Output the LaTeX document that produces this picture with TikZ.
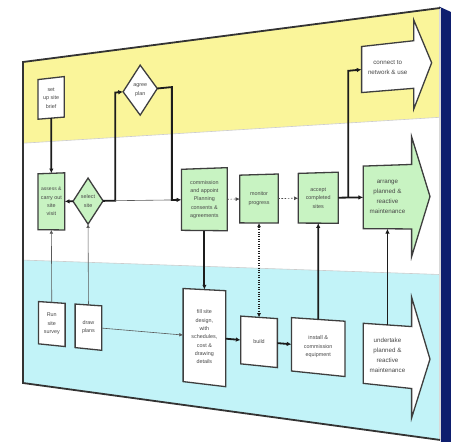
\documentclass[tikz,border=0pt]{standalone}
\usepackage{fontspec}
\setmainfont{Liberation Sans}
\usetikzlibrary{arrows.meta}

\definecolor{laneY}{HTML}{FAF59A}
\definecolor{laneW}{HTML}{FFFFFF}
\definecolor{laneC}{HTML}{C2F3F8}
\definecolor{boxG}{HTML}{C8F3C2}
\definecolor{sideblue}{HTML}{0E1E6E}
\definecolor{ink}{HTML}{1C1C1C}

% Board seen at an angle: (u,v) in 0..100 on the flat chart is mapped
% bilinearly onto the tilted quadrilateral of the board.
\makeatletter
\def\wsplit#1,#2\relax{\pgfmathsetmacro\wu{#1}\pgfmathsetmacro\wv{#2}}
\tikzdeclarecoordinatesystem{w}{%
  \wsplit#1\relax
  \pgfmathsetmacro\wX{23+4.17*\wu}%
  \pgfmathsetmacro\wY{62-0.54*\wu+(3.21+0.0111*\wu)*\wv}%
  \pgfpointxy{\wX}{\wY}%
}
\makeatother

% rectangular step: name, u1, v1, u2, v2, box style, text
\newcommand\flowbox[7]{%
  \path[#6] (w cs:#2,#3) -- (w cs:#4,#3) -- (w cs:#4,#5) -- (w cs:#2,#5) -- cycle;
  \pgfmathsetmacro\fbu{(#2+#4)/2}\pgfmathsetmacro\fbv{(#3+#5)/2}%
  \node[txt] (#1) at (w cs:\fbu,\fbv) {#7};
  \coordinate (#1-n) at (w cs:\fbu,#3);
  \coordinate (#1-s) at (w cs:\fbu,#5);
  \coordinate (#1-w) at (w cs:#2,\fbv);
  \coordinate (#1-e) at (w cs:#4,\fbv);
}
% decision: name, centre u, centre v, half width, half height, style, text
\newcommand\flowdiamond[7]{%
  \path[#6] (w cs:{#2-#4},#3) -- (w cs:#2,{#3-#5}) -- (w cs:{#2+#4},#3)
     -- (w cs:#2,{#3+#5}) -- cycle;
  \node[txt] (#1) at (w cs:#2,#3) {#7};
  \coordinate (#1-n) at (w cs:#2,{#3-#5});
  \coordinate (#1-s) at (w cs:#2,{#3+#5});
  \coordinate (#1-w) at (w cs:{#2-#4},#3);
  \coordinate (#1-e) at (w cs:{#2+#4},#3);
}
% outcome arrow: name, u left, u head base, u tip, centre v,
% body half height, head half height, style, text
\newcommand\flowarrow[9]{%
  \path[#8] (w cs:#2,{#5-#6}) -- (w cs:#3,{#5-#6}) -- (w cs:#3,{#5-#7})
     -- (w cs:#4,#5) -- (w cs:#3,{#5+#7}) -- (w cs:#3,{#5+#6})
     -- (w cs:#2,{#5+#6}) -- cycle;
  \pgfmathsetmacro\fbu{(#2+#3)/2}%
  \node[txt,font=\fontsize{6.2}{10}\selectfont] (#1) at (w cs:\fbu,#5) {#9};
  \coordinate (#1-n) at (w cs:\fbu,{#5-#6});
  \coordinate (#1-s) at (w cs:\fbu,{#5+#6});
  \coordinate (#1-w) at (w cs:#2,#5);
}

\begin{document}
\begin{tikzpicture}[x=1pt,y=-1pt,
  greenbox/.style={fill=boxG,draw=ink!85,line width=1.3pt,line join=miter},
  whitebox/.style={fill=white,draw=ink!85,line width=1.3pt,line join=miter},
  txt/.style={align=center,inner sep=0pt,text=black!72,
    font=\fontsize{5.4}{8.4}\selectfont},
  heavy/.style={draw=ink,line width=1.8pt,-{Latex[length=4.8pt,width=4.5pt]}},
  light/.style={draw=black!65,line width=0.6pt,-{Latex[length=3.8pt,width=3.6pt]}},
  lightplain/.style={draw=black!65,line width=0.6pt},
  dashflow/.style={draw=black!70,line width=0.7pt,dash pattern=on 1.6pt off 1.6pt,
    -{Latex[length=4.2pt,width=4pt]}},
  dotflow/.style={draw=ink,line width=1.1pt,dash pattern=on 1pt off 1.4pt,
    {Latex[length=4.2pt,width=4pt]}-{Latex[length=4.2pt,width=4pt]}},
]
\useasboundingbox (0,0) rectangle (451,442);
\fill[white] (0,0) rectangle (451,442);

% thickness of the board, seen on its right
\fill[sideblue] (439,6.5) -- (451,12) -- (451,442) -- (441,442) -- cycle;

% swim lanes
\fill[laneY] (w cs:0,0) -- (w cs:100,0) -- (w cs:100,25.3) -- (w cs:0,25.3) -- cycle;
\fill[laneW] (w cs:0,25.3) -- (w cs:100,25.3) -- (w cs:100,61.7) -- (w cs:0,61.7) -- cycle;
\fill[laneC] (w cs:0,61.7) -- (w cs:100,61.7) -- (w cs:100,100) -- (w cs:0,100) -- cycle;
\draw[black!20,line width=0.6pt] (w cs:0,25.3) -- (w cs:100,25.3);
\draw[black!20,line width=0.6pt] (w cs:0,61.7) -- (w cs:100,61.7);
\draw[black!15,line width=1.2pt] (w cs:100,0) -- (w cs:100,100);
\draw[ink!90,line width=1.8pt,line join=miter]
  (w cs:100,0) -- (w cs:0,0) -- (w cs:0,100) -- (w cs:100,100);

% steps
\flowbox{A}{3.6}{6}{9.9}{18.2}{whitebox}{set\\up site\\brief}
\flowbox{B}{3.6}{35}{10.0}{52.2}{greenbox}{\fontsize{5}{8.4}\selectfont assess \&\\carry out\\site\\visit}
\flowdiamond{C}{15.6}{43.6}{3.6}{6.8}{greenbox}{select\\site}
\flowdiamond{D}{28.1}{12.3}{4.1}{7.1}{whitebox}{agree\\plan}
\flowbox{E}{38.0}{35.2}{49.0}{52.0}{greenbox}{\fontsize{5.4}{9.6}\selectfont commission\\and appoint\\Planning\\consents \&\\agreements}
\flowbox{F}{52.0}{37.3}{61.2}{49.9}{greenbox}{monitor\\progress}
\flowbox{G}{66.0}{37.3}{75.6}{49.9}{greenbox}{accept\\completed\\sites}
\flowbox{K}{3.7}{74.3}{10.1}{87.3}{whitebox}{Run\\site\\survey}
\flowbox{L}{12.5}{74.3}{18.9}{87.3}{whitebox}{draw\\plans}
\flowbox{M}{38.4}{68.0}{48.6}{93.6}{whitebox}{\fontsize{5.4}{10.4}\selectfont fill site\\design,\\with\\schedules,\\cost \&\\drawing\\details}
\flowbox{N}{52.2}{74.5}{61.0}{87.1}{whitebox}{build}
\flowbox{O}{64.4}{74.0}{77.2}{87.6}{whitebox}{\fontsize{5.6}{9}\selectfont install \&\\commission\\equipment}

% outcomes
\flowarrow{I}{81.2}{93.7}{98.0}{12.5}{5.6}{10.5}{whitebox}{\fontsize{6.2}{8.5}\selectfont connect to\\network \& use}
\flowarrow{H}{81.6}{93.2}{97.6}{43.6}{7.6}{14.1}{greenbox}{arrange\\planned \&\\reactive\\maintenance}
\flowarrow{J}{81.6}{93.2}{97.6}{81.5}{7.3}{14.2}{whitebox}{undertake\\planned \&\\reactive\\maintenance}

% junction points of the elbow connectors
\coordinate (j1) at (w cs:22.1,43.6);
\coordinate (j1t) at (w cs:22.1,12.3);
\coordinate (j2t) at (w cs:35.7,12.3);
\coordinate (j2) at (w cs:35.7,43.6);
\coordinate (j3) at (w cs:78.0,43.6);
\coordinate (j3t) at (w cs:78.0,12.5);

% connectors
\draw[heavy] (A-s) -- (B-n);
\draw[light] (K-n) -- (B-s);
\draw[light] (L-n) -- (C-s);
\draw[heavy] (C-w) -- (B-e);
\draw[heavy] (C-e) -- (j1) -- (j1t) -- (D-w);
\draw[lightplain] (j1) -- (j2);
\draw[heavy] (D-e) -- (j2t) -- (j2) -- (E-w);
\draw[dashflow] (E-e) -- (F-w);
\draw[dashflow] (F-e) -- (G-w);
\draw[heavy] (G-e) -- (H-w);
\draw[heavy] (j3) -- (j3t) -- (I-w);
\draw[heavy] (E-s) -- (M-n);
\draw[dotflow] (F-s) -- (N-n);
\draw[light] (L-e) -- (M-w);
\draw[heavy] (M-e) -- (N-w);
\draw[heavy] (N-e) -- (O-w);
\draw[heavy] (O-n) -- (G-s);
\draw[heavy] (J-n) -- (H-s);
\end{tikzpicture}
\end{document}
